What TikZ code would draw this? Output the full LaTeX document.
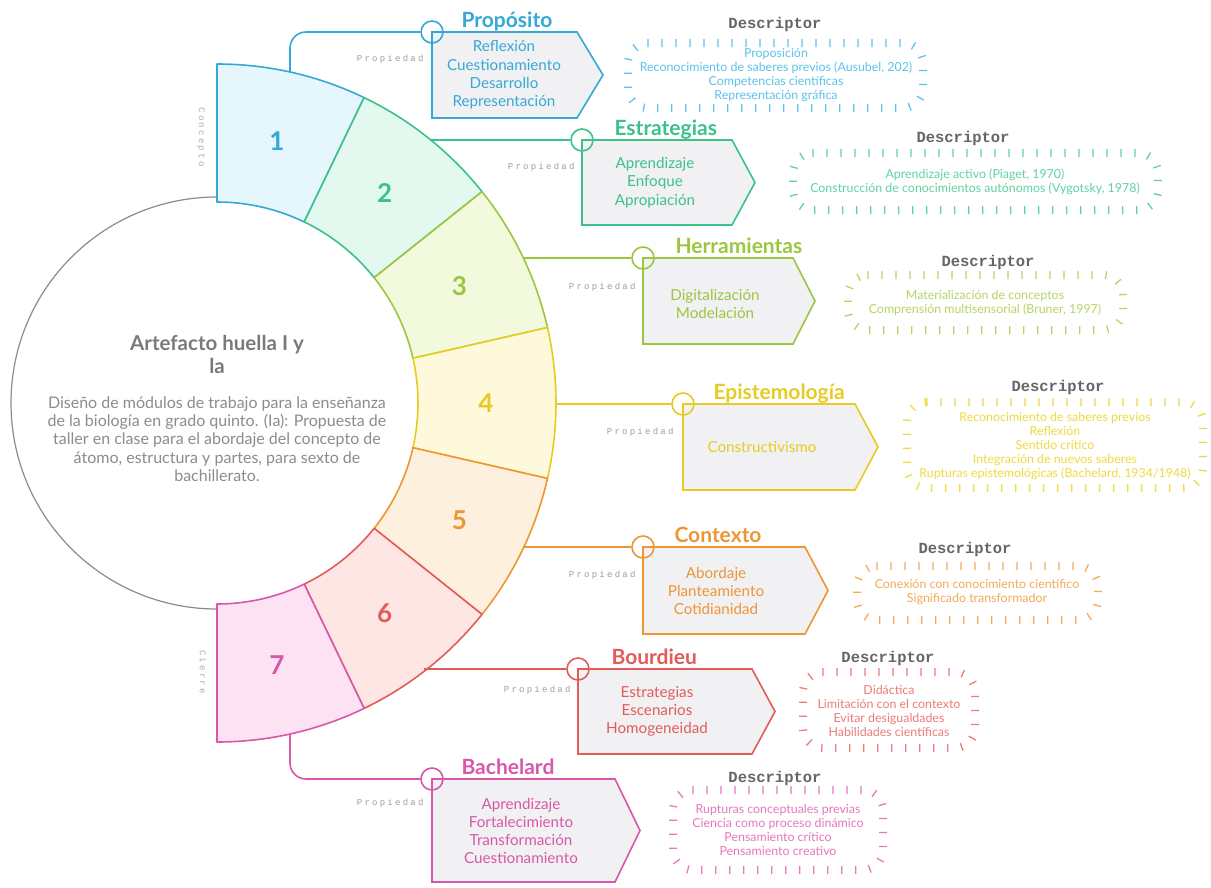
\documentclass[tikz,border=0pt]{standalone}
\usepackage{fontspec}
\setmainfont{Lato}
\newfontfamily\monof{Liberation Mono}
\newfontfamily\propf[LetterSpace=25]{Liberation Mono}
\usetikzlibrary{decorations.pathreplacing,calc}
\definecolor{cA}{HTML}{35A9D6}
\definecolor{cB}{HTML}{3CC18B}
\definecolor{cC}{HTML}{9CC63F}
\definecolor{cD}{HTML}{E6CC22}
\definecolor{cE}{HTML}{EC9634}
\definecolor{cF}{HTML}{E25C58}
\definecolor{cG}{HTML}{D957A9}
\definecolor{lA}{HTML}{5CC3EA}
\definecolor{lB}{HTML}{62D2A2}
\definecolor{lC}{HTML}{B6D565}
\definecolor{lD}{HTML}{EEDB40}
\definecolor{lE}{HTML}{F2AA58}
\definecolor{lF}{HTML}{EC7C7A}
\definecolor{lG}{HTML}{E678BE}
\definecolor{fA}{HTML}{E6F6FD}
\definecolor{fB}{HTML}{E3F8EF}
\definecolor{fC}{HTML}{F3F9DC}
\definecolor{fD}{HTML}{FEF9DA}
\definecolor{fE}{HTML}{FEF0DE}
\definecolor{fF}{HTML}{FDE6E4}
\definecolor{fG}{HTML}{FCE2F3}
\definecolor{boxfill}{HTML}{F1F1F3}
\definecolor{dgray}{HTML}{666666}
\definecolor{cgray}{HTML}{7A7A7A}
\tikzset{
 conn/.style={line width=1.6pt, rounded corners=16pt},
 markc/.style={circle, minimum size=22pt, inner sep=0pt, line width=1.6pt},
 boxline/.style={line width=1.6pt, fill=boxfill, line join=miter},
 boxtext/.style={align=center, font=\fontsize{15.2}{18.2}\selectfont},
 ttl/.style={font=\fontsize{21}{22}\selectfont\bfseries, anchor=base west},
 prop/.style={font=\propf\fontsize{9}{10}\selectfont, text=black!38, anchor=east},
 dtitle/.style={font=\monof\bfseries\fontsize{15.5}{16}\selectfont, text=dgray},
 dtext/.style={align=center, font=\fontsize{12.4}{14}\selectfont},
 tickborder/.style={decorate, decoration={ticks, segment length=14pt, amplitude=4pt}, line width=1.3pt},
 num/.style={font=\fontsize{26}{28}\selectfont\bfseries},
 vlab/.style={font=\propf\fontsize{9}{10}\selectfont, text=black!32, rotate=-90},
}
\newcommand\seg[4]{%
 \pgfmathsetmacro\ta{-90+(#1-1)*180/7}%
 \pgfmathsetmacro\tb{-90+#1*180/7}%
 \pgfmathsetmacro\tm{(\ta+\tb)/2}%
 \draw[fill=#2, draw=#3, line width=1.6pt, line join=round] ($(C)+(\ta:201)$) arc[start angle=\ta, end angle=\tb, radius=201] -- ($(C)+(\tb:339)$) arc[start angle=\tb, end angle=\ta, radius=339] -- cycle;
 \node[num, text=#4] (n#1) at ($(C)+(\tm:269)$) {#1};}
\newcommand\catbox[6]{%
 \draw[boxline, draw=#1] (#2,#3) -- (#4,#3) -- (#6,{(#3+#5)/2}) -- (#4,#5) -- (#2,#5) -- cycle;}
\newcommand\descbox[5]{%
 \draw[tickborder, draw=#1] ({#2+20},#3) -- ({#4-20},#3) arc[start angle=-90, end angle=0, radius=20] -- (#4,{#5-20}) arc[start angle=0, end angle=90, radius=20] -- ({#2+20},#5) arc[start angle=90, end angle=180, radius=20] -- (#2,{#3+20}) arc[start angle=180, end angle=270, radius=20] -- cycle;}
\begin{document}
\begin{tikzpicture}[x=1pt,y=-1pt]
\useasboundingbox[fill=white] (0,0) rectangle (1211,887);
\coordinate (C) at (217,403);
% central circle
\draw[draw=black!45, line width=1.2pt, fill=white] (C) circle[radius=206];
\node[font=\fontsize{20.5}{23}\selectfont\bfseries, text=cgray, align=center] (ct) at (217,354) {Artefacto huella I y\\la};
\node[font=\fontsize{16}{18.3}\selectfont, text=black!45, align=center] (cd) at (217,439) {Diseño de módulos de trabajo para la enseñanza\\de la biología en grado quinto. (Ia): Propuesta de\\taller en clase para el abordaje del concepto de\\átomo, estructura y partes, para sexto de\\bachillerato.};
% ring
\seg{1}{fA}{cA}{cA}
\seg{2}{fB}{cB}{cB}
\seg{3}{fC}{cC}{cC}
\seg{4}{fD}{cD}{cD}
\seg{5}{fE}{cE}{cE}
\seg{6}{fF}{cF}{cF}
\seg{7}{fG}{cG}{cG}
\node[vlab] (v1) at (201,137) {Concepto};
\node[vlab] (v7) at (203,672) {Cierre};
% ---------- 1 Proposito
\coordinate (a1) at (290,72);
\node[markc] (m1) at (432,32) {};
\draw[conn, draw=cA] (a1) |- (m1.west);
\catbox{cA}{432}{32}{577}{118}{603}
\node[boxtext, text=cA] (b1) at (504,75) {Reflexión\\Cuestionamiento\\Desarrollo\\Representación};
\node[markc, draw=cA] at (m1) {};
\node[ttl, text=cA] (t1) at (458,27) {Propósito};
\node[prop] (p1) at (427,59) {Propiedad};
\node[dtitle] (dt1) at (775,24) {Descriptor};
\descbox{lA}{628}{43}{923}{108}
\node[dtext, text=lA] (d1) at (776,75.5) {Proposición\\Reconocimiento de saberes previos (Ausubel, 202)\\Competencias científicas\\Representación gráfica};
% ---------- 2 Estrategias
\coordinate (a2) at (430,140);
\node[markc] (m2) at (582,140) {};
\draw[conn, draw=cB] (a2) -- (m2.west);
\catbox{cB}{582}{140}{732}{225}{755}
\node[boxtext, text=cB] (b2) at (655,182.5) {Aprendizaje\\Enfoque\\Apropiación};
\node[markc, draw=cB] at (m2) {};
\node[ttl, text=cB] (t2) at (611,135) {Estrategias};
\node[prop] (p2) at (578,167) {Propiedad};
\node[dtitle] (dt2) at (963,138) {Descriptor};
\descbox{lB}{793}{153}{1158}{210}
\node[dtext, text=lB] (d2) at (975,181.5) {Aprendizaje activo (Piaget, 1970)\\Construcción de conocimientos autónomos (Vygotsky, 1978)};
% ---------- 3 Herramientas
\coordinate (a3) at (524,258);
\node[markc] (m3) at (643,258) {};
\draw[conn, draw=cC] (a3) -- (m3.west);
\catbox{cC}{643}{258}{793}{344}{815}
\node[boxtext, text=cC] (b3) at (715,304) {Digitalización\\Modelación};
\node[markc, draw=cC] at (m3) {};
\node[ttl, text=cC] (t3) at (672,253) {Herramientas};
\node[prop] (p3) at (639,287) {Propiedad};
\node[dtitle] (dt3) at (988,262) {Descriptor};
\descbox{lC}{848}{275}{1123}{330}
\node[dtext, text=lC] (d3) at (985,303) {Materialización de conceptos\\Comprensión multisensorial (Bruner, 1997)};
% ---------- 4 Epistemologia
\coordinate (a4) at (556,404);
\node[markc] (m4) at (683,404) {};
\draw[conn, draw=cD] (a4) -- (m4.west);
\catbox{cD}{683}{404}{855}{490}{878}
\node[boxtext, text=cD] (b4) at (762,447) {Constructivismo};
\node[markc, draw=cD] at (m4) {};
\node[ttl, text=cD] (t4) at (710,399) {Epistemología};
\node[prop] (p4) at (677,432) {Propiedad};
\node[dtitle] (dt4) at (1058,387) {Descriptor};
\descbox{lD}{907}{402}{1203}{488}
\node[dtext, text=lD] (d4) at (1055,446) {Reconocimiento de saberes previos\\Reflexión\\Sentido crítico\\Integración de nuevos saberes\\Rupturas epistemológicas (Bachelard, 1934/1948)};
% ---------- 5 Contexto
\coordinate (a5) at (523,547);
\node[markc] (m5) at (643,547) {};
\draw[conn, draw=cE] (a5) -- (m5.west);
\catbox{cE}{643}{547}{805}{634}{828}
\node[boxtext, text=cE] (b5) at (716,591) {Abordaje\\Planteamiento\\Cotidianidad};
\node[markc, draw=cE] at (m5) {};
\node[ttl, text=cE] (t5) at (671,542) {Contexto};
\node[prop] (p5) at (639,575) {Propiedad};
\node[dtitle] (dt5) at (965,549) {Descriptor};
\descbox{lE}{857}{566}{1098}{620}
\node[dtext, text=lE] (d5) at (977,592) {Conexión con conocimiento científico\\Significado transformador};
% ---------- 6 Bourdieu
\coordinate (a6) at (424,669);
\node[markc] (m6) at (578,669) {};
\draw[conn, draw=cF] (a6) -- (m6.west);
\catbox{cF}{578}{669}{752}{754}{775}
\node[boxtext, text=cF] (b6) at (657,711.5) {Estrategias\\Escenarios\\Homogeneidad};
\node[markc, draw=cF] at (m6) {};
\node[ttl, text=cF] (t6) at (608,664) {Bourdieu};
\node[prop] (p6) at (574,690) {Propiedad};
\node[dtitle] (dt6) at (888,658) {Descriptor};
\descbox{lF}{803}{672}{975}{748}
\node[dtext, text=lF] (d6) at (889,711) {Didáctica\\Limitación con el contexto\\Evitar desigualdades\\Habilidades científicas};
% ---------- 7 Bachelard
\coordinate (a7) at (290,734);
\node[markc] (m7) at (432,779) {};
\draw[conn, draw=cG] (a7) |- (m7.west);
\catbox{cG}{432}{779}{615}{882}{640}
\node[boxtext, text=cG] (b7) at (521,831) {Aprendizaje\\Fortalecimiento\\Transformación\\Cuestionamiento};
\node[markc, draw=cG] at (m7) {};
\node[ttl, text=cG] (t7) at (458,774) {Bachelard};
\node[prop] (p7) at (427,803) {Propiedad};
\node[dtitle] (dt7) at (775,778) {Descriptor};
\descbox{lG}{673}{790}{883}{870}
\node[dtext, text=lG] (d7) at (778,830) {Rupturas conceptuales previas\\Ciencia como proceso dinámico\\Pensamiento crítico\\Pensamiento creativo};
\end{tikzpicture}
\end{document}
